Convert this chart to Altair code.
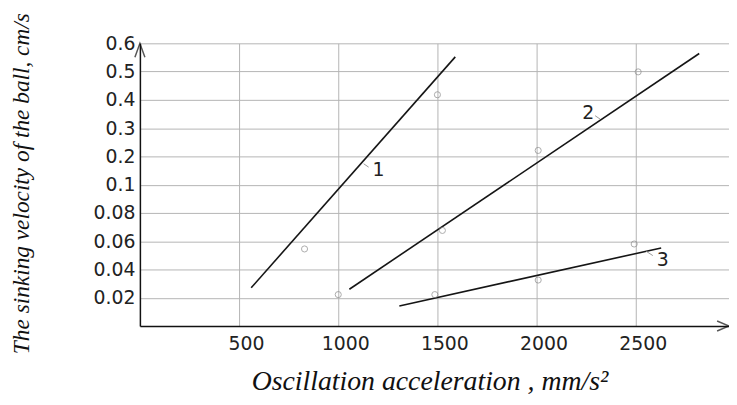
import altair as alt
import pandas as pd

# ---- data ----
line_id = ["1", "1", "2", "2", "3", "3"]
line_x = [561, 1590, 1056, 2820, 1308, 2628]
line_y = [0.027, 0.552, 0.026, 0.564, 0.0142, 0.0552]

pt_x = [830, 1000, 1500, 1525, 1487, 2008, 2008, 2512, 2492]
pt_y = [0.0545, 0.0222, 0.418, 0.0676, 0.0222, 0.221, 0.0325, 0.499, 0.058]

lab_text = ["1", "2", "3"]
lab_x = [1203, 2260, 2636]
lab_y = [0.151, 0.355, 0.047]

lead_x = [1128, 2295, 2553]
lead_x2 = [1153, 2320, 2586]
lead_y = [0.174, 0.344, 0.0528]
lead_y2 = [0.162, 0.332, 0.0498]

x_ticks = [500, 1000, 1500, 2000, 2500]
y_ticks = [0.02, 0.04, 0.06, 0.08, 0.1, 0.2, 0.3, 0.4, 0.5, 0.6]
x_max = 2970
y_break = [0, 0.1, 0.6]

W, H = 594, 285

lines_df = pd.DataFrame({"id": line_id, "x": line_x, "y": line_y})
pts_df = pd.DataFrame({"x": pt_x, "y": pt_y})
lab_df = pd.DataFrame({"t": lab_text, "x": lab_x, "y": lab_y})
lead_df = pd.DataFrame({"x": lead_x, "x2": lead_x2, "y": lead_y, "y2": lead_y2})
yarrow_df = pd.DataFrame({"x": [0], "y": [y_ticks[-1]]})
xarrow_df = pd.DataFrame({"x": [x_max], "y": [0]})

xs = alt.Scale(domain=[0, x_max], nice=False, zero=False)
ys = alt.Scale(domain=y_break, range=[H, H / 2, 0], nice=False, zero=False)

xaxis = alt.Axis(
    values=x_ticks, format="d", grid=True, ticks=False, tickSize=0,
    labelPadding=9, labelOffset=7, labelFont="DejaVu Sans", labelFontSize=19, labelColor="#222",
    labelFlush=False, labelOverlap=False,
    title="Oscillation acceleration , mm/s²",
    titleFont="Liberation Serif", titleFontStyle="italic", titleFontWeight="normal",
    titleFontSize=28, titleColor="#111", titleX=W / 2 - 5, titleY=64,
    titleAlign="center", titleBaseline="alphabetic",
)
yaxis = alt.Axis(
    values=y_ticks, format=".2~f", grid=True, ticks=False, tickSize=0,
    labelPadding=5, labelFont="DejaVu Sans", labelFontSize=19, labelColor="#222",
    labelFlush=False, labelOverlap=False, labelBaseline="middle",
    title="The sinking velocity of the ball, cm/s",
    titleFont="Liberation Serif", titleFontStyle="italic", titleFontWeight="normal",
    titleFontSize=23.5, titleColor="#111", titleX=-119, titleY=141,
    titleAlign="center", titleBaseline="middle", titleAngle=270,
)


def X(f="x"):
    return alt.X(f, type="quantitative", scale=xs, axis=xaxis)


def Y(f="y"):
    return alt.Y(f, type="quantitative", scale=ys, axis=yaxis)


lines = alt.Chart(lines_df).mark_line(color="#151515", strokeWidth=1.6).encode(
    x=X(), y=Y(), detail="id:N"
)
points = alt.Chart(pts_df).mark_point(
    shape="circle", filled=False, color="#8a8a8a", size=38, strokeWidth=1
).encode(x=X(), y=Y())
leads = alt.Chart(lead_df).mark_rule(color="#999", strokeWidth=1).encode(
    x=X(), y=Y(), x2="x2:Q", y2="y2:Q"
)
labels = alt.Chart(lab_df).mark_text(
    font="DejaVu Sans", fontSize=19, color="#222", align="center", baseline="middle"
).encode(x=X(), y=Y(), text="t:N")
yarrow = alt.Chart(yarrow_df).mark_point(
    shape="M-0.36,1L0,0L0.36,1", filled=False, color="#111", size=784, strokeWidth=1.5
).encode(x=X(), y=Y())
xarrow = alt.Chart(xarrow_df).mark_point(
    shape="M-1,-0.42L0,0L-1,0.42", filled=False, color="#111", size=576, strokeWidth=1.5
).encode(x=X(), y=Y())

chart = (
    alt.layer(lines, points, leads, labels, yarrow, xarrow)
    .properties(
        width=W, height=H, autosize="none",
        padding={"left": 133, "top": 34, "right": 0, "bottom": 70},
        background="white",
    )
    .configure_view(stroke=None)
    .configure_axis(
        gridColor="#b4b4b4", gridWidth=1, gridOpacity=1,
        domainColor="#111", domainWidth=1.5,
    )
)

chart.save("out.html", embed_options={"renderer": "svg", "actions": False})
